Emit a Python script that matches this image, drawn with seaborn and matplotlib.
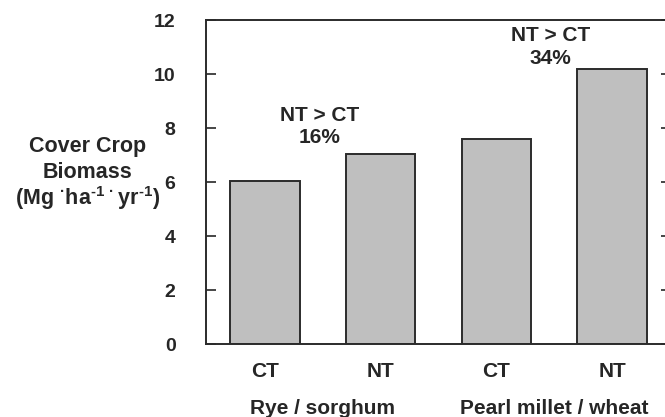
import pandas as pd
import seaborn as sns
import matplotlib.pyplot as plt
from matplotlib.transforms import blended_transform_factory

# Data
bars = ["CT1", "NT1", "CT2", "NT2"]
tillage = ["CT", "NT", "CT", "NT"]
biomass = [6.05, 7.05, 7.6, 10.2]
groups = ["Rye / sorghum", "Pearl millet / wheat"]
increase = ["16%", "34%"]
ylabel_lines = ["Cover Crop", "Biomass",
                "(Mg $^{\u00b7}$ha$^{\u2010 1}$$\\,^{\u00b7}\\,$yr$^{\u2010 1}$)"]

sns.set_style("ticks")
plt.rcParams["font.family"] = ["Liberation Sans", "DejaVu Sans"]
plt.rcParams["font.weight"] = "bold"
plt.rcParams["mathtext.fontset"] = "custom"
plt.rcParams["mathtext.rm"] = "Liberation Sans:bold"
plt.rcParams["mathtext.default"] = "regular"

df = pd.DataFrame({"bar": bars, "biomass": biomass})

fig = plt.figure(figsize=(6.65, 4.17), dpi=100)
ax = fig.add_axes([0.310, 0.175, 0.699, 0.777])

sns.barplot(data=df, x="bar", y="biomass", color="#bfbfbf", saturation=1,
            edgecolor="#2b2b2b", linewidth=1.4, width=0.6, ax=ax)

ax.set_xlim(-0.51, 3.51)
ax.set_ylim(0, 12)
ax.set_yticks(range(0, 13, 2))
ax.set_xticks(range(len(bars)))
ax.set_xticklabels(tillage, fontsize=15, fontweight="bold")
ax.tick_params(axis="y", direction="in", length=7, width=1.2, right=True,
               labelsize=14, pad=22)
ax.tick_params(axis="x", length=0, pad=13)
for lab in ax.get_yticklabels():
    lab.set_fontweight("bold")
for s in ax.spines.values():
    s.set_linewidth(1.4)
    s.set_color("#2b2b2b")
ax.set_xlabel("")
ax.set_ylabel("")

# group labels under the tillage labels
trans = blended_transform_factory(ax.transData, ax.transAxes)
for i, g in enumerate(groups):
    ax.text(2 * i + 0.5, -0.2, g, transform=trans, ha="center", va="center",
            fontsize=15, fontweight="bold")

# NT > CT annotations
ax.text(0.47, 8.05, "NT > CT\n" + increase[0], ha="center", va="center",
        fontsize=15, fontweight="bold", linespacing=1.2)
ax.text(2.47, 11.0, "NT > CT\n" + increase[1], ha="center", va="center",
        fontsize=15, fontweight="bold", linespacing=1.3)

# y axis title, one line at a time
for line, yb in zip(ylabel_lines, [0.635, 0.573, 0.508]):
    fig.text(0.131, yb, line, ha="center", va="baseline",
             fontsize=15.5, fontweight="bold")

fig.savefig("out.png", dpi=100)
